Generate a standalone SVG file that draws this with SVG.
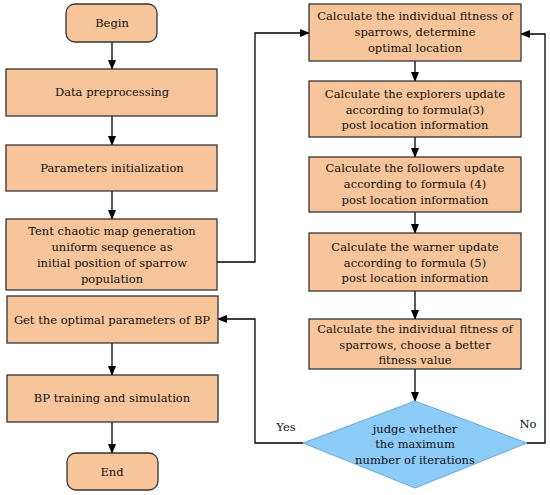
<svg xmlns="http://www.w3.org/2000/svg" width="550" height="495" viewBox="0 0 550 495">
<style>
.b{fill:#F8C49A;stroke:#333;stroke-width:1.3}
.d{fill:#8DCBF8;stroke:#6aa9d8;stroke-width:1}
text{font-family:"DejaVu Serif",serif;font-size:11.5px;fill:#111;text-anchor:middle}
.c{fill:none;stroke:#000;stroke-width:1.3}
</style>
<defs>
<marker id="a" markerWidth="10" markerHeight="10" refX="9" refY="5" orient="auto" markerUnits="userSpaceOnUse"><path d="M0,1 L10,5 L0,9 Z" fill="#000"/></marker>
</defs>
<rect width="550" height="495" fill="#fff"/>
<g id="connectors">
<path class="c" d="M112,42 V69" marker-end="url(#a)"/>
<path class="c" d="M112,116 V145" marker-end="url(#a)"/>
<path class="c" d="M112,191 V219" marker-end="url(#a)"/>
<path class="c" d="M217,262 H255 V33 H309" marker-end="url(#a)"/>
<path class="c" d="M415,61 V81" marker-end="url(#a)"/>
<path class="c" d="M415,137 V157" marker-end="url(#a)"/>
<path class="c" d="M415,212 V233" marker-end="url(#a)"/>
<path class="c" d="M415,291 V319" marker-end="url(#a)"/>
<path class="c" d="M415,369 V401" marker-end="url(#a)"/>
<path class="c" d="M527,443 H545 V34 H521" marker-end="url(#a)"/>
<path class="c" d="M303,443 H255 V319 H218" marker-end="url(#a)"/>
<path class="c" d="M112,343 V375" marker-end="url(#a)"/>
<path class="c" d="M112,422 V453" marker-end="url(#a)"/>
<text x="286" y="431">Yes</text>
<text x="528" y="428">No</text>
</g>
<g id="begin"><rect class="b" x="66" y="4" width="91" height="38" rx="9"/><text x="112" y="27">Begin</text></g>
<g id="data"><rect class="b" x="6" y="69" width="211" height="47"/><text x="112" y="96">Data preprocessing</text></g>
<g id="params"><rect class="b" x="6" y="145" width="211" height="46"/><text x="112" y="172">Parameters initialization</text></g>
<g id="tent"><rect class="b" x="6" y="219" width="211" height="71"/><text x="112" y="235">Tent chaotic map generation</text><text x="112" y="251">uniform sequence as</text><text x="112" y="267">initial position of sparrow</text><text x="112" y="283">population</text></g>
<g id="getbp"><rect class="b" x="7" y="296" width="211" height="47"/><text x="112" y="324">Get the optimal parameters of BP</text></g>
<g id="bptrain"><rect class="b" x="7" y="375" width="211" height="47"/><text x="112" y="402">BP training and simulation</text></g>
<g id="end"><rect class="b" x="67" y="453" width="91" height="37" rx="9"/><text x="112" y="476">End</text></g>
<g id="fit1"><rect class="b" x="309" y="4" width="212" height="57"/><text x="415" y="20">Calculate the individual fitness of</text><text x="415" y="36">sparrows, determine</text><text x="415" y="52">optimal location</text></g>
<g id="explorers"><rect class="b" x="309" y="81" width="212" height="56"/><text x="415" y="98">Calculate the explorers update</text><text x="415" y="114">according to formula(3)</text><text x="415" y="129">post location information</text></g>
<g id="followers"><rect class="b" x="309" y="157" width="212" height="55"/><text x="415" y="172">Calculate the followers update</text><text x="415" y="188">according to formula (4)</text><text x="415" y="204">post location information</text></g>
<g id="warner"><rect class="b" x="309" y="233" width="212" height="58"/><text x="415" y="251">Calculate the warner update</text><text x="415" y="267">according to formula (5)</text><text x="415" y="282">post location information</text></g>
<g id="fit2"><rect class="b" x="309" y="319" width="212" height="50"/><text x="415" y="333">Calculate the individual fitness of</text><text x="415" y="349">sparrows, choose a better</text><text x="415" y="364">fitness value</text></g>
<g id="judge"><polygon class="d" points="415,401 527,443 415,488 303,443"/><text x="415" y="433">judge whether</text><text x="415" y="448">the maximum</text><text x="415" y="464">number of iterations</text></g>
</svg>
